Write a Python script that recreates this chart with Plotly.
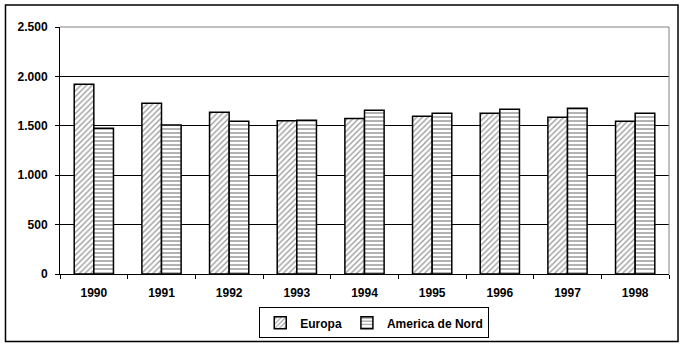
import plotly.graph_objects as go

# Annual values by region
years = ["1990", "1991", "1992", "1993", "1994", "1995", "1996", "1997", "1998"]
europa = [1920, 1728, 1636, 1552, 1575, 1596, 1627, 1586, 1545]
america_nord = [1475, 1508, 1545, 1555, 1657, 1627, 1667, 1677, 1627]
y_ticks = [0, 500, 1000, 1500, 2000, 2500]

FONT = "Liberation Sans"

fig = go.Figure()
fig.add_trace(go.Bar(
    name="Europa", x=years, y=europa,
    marker=dict(color="white", line=dict(color="black", width=1.5),
                pattern=dict(shape="/", fgcolor="#3c3c3c", bgcolor="white",
                             size=4, solidity=0.35)),
))
fig.add_trace(go.Bar(
    name="America de Nord", x=years, y=america_nord,
    marker=dict(color="white", line=dict(color="black", width=1.5),
                pattern=dict(shape="-", fgcolor="black", bgcolor="white",
                             size=4, solidity=0.3)),
))

fig.update_layout(
    width=684, height=350,
    margin=dict(l=60, r=15, t=27, b=76),
    paper_bgcolor="white", plot_bgcolor="white",
    barmode="group", bargap=0.42, bargroupgap=0,
    separators=",.",
    font=dict(family=FONT, size=12, color="black"),
    showlegend=True,
    legend=dict(orientation="h", x=0.516, xanchor="center", y=-0.135, yanchor="top",
                bordercolor="black", borderwidth=1, bgcolor="white",
                font=dict(family=FONT, size=12, color="black", weight="bold"),
                itemwidth=30, traceorder="normal"),
)

fig.update_xaxes(
    type="category", showgrid=False, showline=True, linecolor="black", linewidth=1,
    ticks="outside", tickson="boundaries", ticklen=4, tickcolor="black",
    tickfont=dict(family=FONT, size=12, color="black", weight="bold"),
    ticklabelstandoff=8,
)
fig.update_yaxes(
    range=[0, 2500], tickvals=y_ticks, tickformat=",d",
    showgrid=True, gridcolor="black", gridwidth=1, zeroline=False,
    showline=True, linecolor="black", linewidth=1,
    ticks="outside", ticklen=4, tickcolor="black",
    tickfont=dict(family=FONT, size=12, color="black", weight="bold"),
    ticklabelstandoff=5,
)

# Gray plot-area frame (top and right edges)
fig.add_shape(type="line", xref="paper", yref="paper", x0=0, x1=1, y0=1, y1=1,
              line=dict(color="#808080", width=1), layer="above")
fig.add_shape(type="line", xref="paper", yref="paper", x0=1, x1=1, y0=0, y1=1,
              line=dict(color="#808080", width=1), layer="above")

# Outer chart border
fig.add_shape(type="rect", xref="paper", yref="paper",
              x0=-0.0895, x1=1.0148, y0=-0.2733, y1=1.0891,
              line=dict(color="black", width=1.5), fillcolor="rgba(0,0,0,0)",
              layer="above")

fig.write_html("out.html")
